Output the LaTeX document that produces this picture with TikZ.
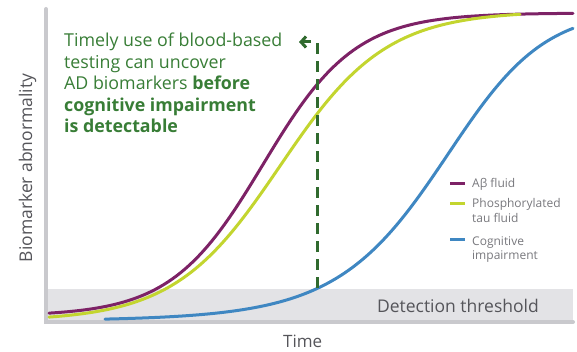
\documentclass[tikz,border=0pt]{standalone}
\usepackage{fontspec}
\setmainfont{Open Sans}
\usepackage{tikz}
\usetikzlibrary{arrows.meta}
\definecolor{abpurple}{RGB}{125, 34, 102}
\definecolor{taulime}{RGB}{195, 213, 47}
\definecolor{cogblue}{RGB}{63, 135, 194}
\definecolor{msggreen}{RGB}{56, 125, 54}
\definecolor{axisgray}{RGB}{201, 201, 205}
\definecolor{bandgray}{RGB}{227, 227, 230}
\definecolor{labelgray}{RGB}{85, 85, 90}
\definecolor{keygray}{RGB}{120, 120, 125}

\begin{document}
\begin{tikzpicture}[x=1pt, y=-1pt,
  curve/.style={line width=3pt, line cap=round},
  keyline/.style={line width=3pt},
  keytext/.style={anchor=base west, inner sep=0pt, text=keygray,
    font=\fontsize{12}{14}\selectfont}]
\useasboundingbox (0,0) rectangle (577,352);
% Detection band and axes
\fill[bandgray] (46,289) rectangle (573,322);
\draw[axisgray, line width=4pt, line cap=round] (46,9) -- (46,322) -- (573,322);
\node[anchor=base east, inner sep=0pt, text=labelgray, font=\fontsize{17.5}{20}\selectfont] (thresh) at (539,312) {Detection threshold};
\node[anchor=base west, inner sep=0pt, text=labelgray, font=\fontsize{17}{20}\selectfont] (time) at (283,347) {Time};
\node[rotate=90, anchor=base, inner sep=0pt, text=labelgray, font=\fontsize{17.5}{20}\selectfont] (ylab) at (32,168) {Biomarker abnormality};

% Biomarker curves (logistic)
\draw[curve, abpurple, samples=120, domain=49:573] plot (\x, {316-303/(1+exp(-(\x-263)/46))});
\draw[curve, taulime, samples=120, domain=49:520] plot (\x, {321-310/(1+exp(-(\x-280)/53))});
\draw[curve, cogblue, samples=120, domain=105:573] plot (\x, {321-310/(1+exp(-(\x-440)/(58-0.04*(\x-300))))});

% Message and pointer
\node[anchor=north west, inner sep=0pt, align=left, text=msggreen, font=\fontsize{17.8}{21.5}\selectfont] (msg) at (64,33)
  {Timely use of blood-based\\testing can uncover\\AD biomarkers \textbf{before}\\\textbf{cognitive impairment}\\\textbf{is detectable}};
\coordinate (onset) at (317,288);
\coordinate (bend) at (317,42);
\coordinate (tip) at (299,42);
\draw[msggreen!85!black, line width=3pt, dash pattern=on 11pt off 7pt, -{Straight Barb[length=5pt, width=11pt]}] (onset) -- (bend) -- (tip);

% Legend
\draw[keyline, abpurple] (450,184) -- (465,184);
\node[keytext] (keyab) at (472,188) {Aβ fluid};
\draw[keyline, taulime] (450,204) -- (465,204);
\node[keytext] (keytau) at (472,208) {Phosphorylated};
\node[keytext] (keytau2) at (472,223) {tau fluid};
\draw[keyline, cogblue] (450,240) -- (465,240);
\node[keytext] (keycog) at (472,245) {Cognitive};
\node[keytext] (keycog2) at (472,259) {impairment};
\end{tikzpicture}
\end{document}
